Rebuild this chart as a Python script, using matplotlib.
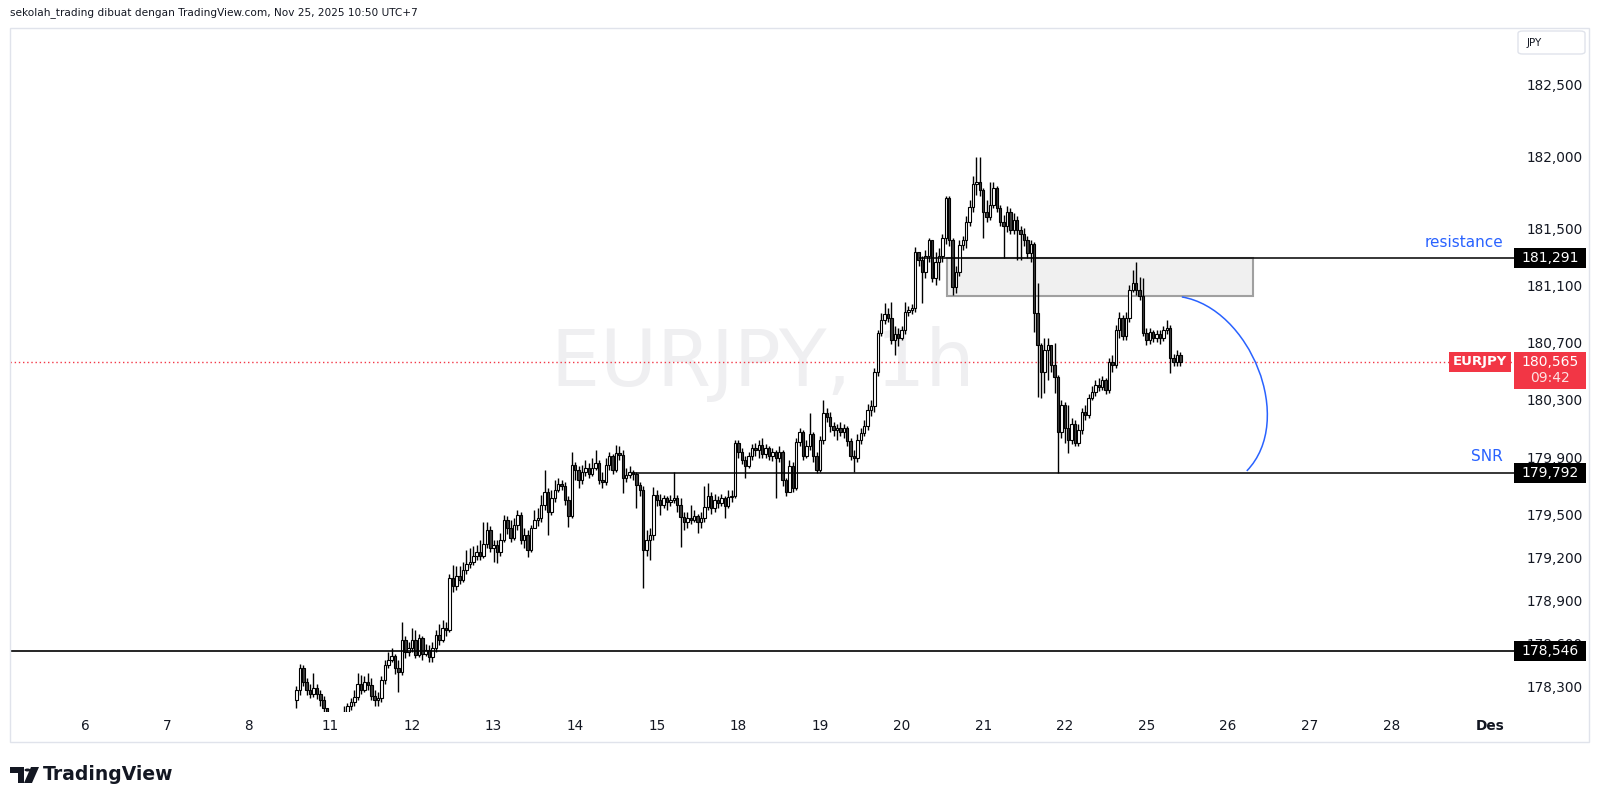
import matplotlib
matplotlib.use("Agg")
import matplotlib.pyplot as plt
import matplotlib.transforms as mtransforms
from matplotlib.patches import Rectangle, FancyBboxPatch, PathPatch, Polygon, Circle
from matplotlib.path import Path
import numpy as np

# EURJPY 1h candles, bar index counted from Nov 6 00:00 (UTC+7)
first_bar = 62
first_open = 178.205
close = [
    178.275, 178.428, 178.330, 178.275, 178.247, 178.289, 178.247, 178.205, 178.149, 178.079,
    178.030, 178.051, 178.065, 178.093, 178.121, 178.163, 178.191, 178.226, 178.316, 178.275,
    178.330, 178.309, 178.233, 178.205, 178.219, 178.344, 178.449, 178.484, 178.512, 178.428,
    178.400, 178.624, 178.540, 178.568, 178.624, 178.519, 178.638, 178.526, 178.554, 178.505,
    178.568, 178.659, 178.624, 178.708, 178.694, 179.057, 179.001, 179.071, 179.043, 179.113,
    179.155, 179.169, 179.210, 179.238, 179.210, 179.294, 179.392, 179.266, 179.287, 179.238,
    179.322, 179.462, 179.406, 179.336, 179.427, 179.497, 179.322, 179.357, 179.252, 179.406,
    179.462, 179.476, 179.567, 179.657, 179.518, 179.615, 179.671, 179.713, 179.699, 179.601,
    179.490, 179.846, 179.811, 179.741, 179.797, 179.825, 179.783, 179.825, 179.860, 179.741,
    179.727, 179.846, 179.909, 179.811, 179.930, 179.916, 179.755, 179.776, 179.797, 179.783,
    179.706, 179.671, 179.252, 179.322, 179.357, 179.636, 179.601, 179.567, 179.615, 179.587,
    179.601, 179.615, 179.567, 179.483, 179.448, 179.476, 179.462, 179.490, 179.448, 179.476,
    179.553, 179.629, 179.546, 179.601, 179.580, 179.615, 179.560, 179.622, 179.629, 180.000,
    179.937, 179.881, 179.839, 179.909, 179.965, 179.951, 179.986, 179.923, 179.965, 179.909,
    179.937, 179.895, 179.937, 179.741, 179.657, 179.839, 179.685, 180.006, 180.076, 179.909,
    179.979, 180.062, 179.909, 179.811, 180.020, 180.209, 180.181, 180.118, 180.090, 180.104,
    180.076, 180.104, 180.013, 179.909, 179.895, 180.020, 180.069, 180.118, 180.230, 180.258,
    180.495, 180.768, 180.858, 180.900, 180.872, 180.719, 180.761, 180.733, 180.789, 180.914,
    180.928, 180.942, 181.333, 181.277, 181.194, 181.305, 181.417, 181.152, 181.263, 181.305,
    181.431, 181.710, 181.417, 181.089, 181.194, 181.382, 181.417, 181.543, 181.647, 181.808,
    181.822, 181.766, 181.612, 181.578, 181.661, 181.780, 181.640, 181.543, 181.515, 181.612,
    181.487, 181.557, 181.487, 181.459, 181.417, 181.326, 181.389, 180.907, 180.684, 180.495,
    180.649, 180.684, 180.544, 180.460, 180.076, 180.265, 180.104, 180.020, 180.132, 179.999,
    180.090, 180.216, 180.195, 180.314, 180.356, 180.405, 180.391, 180.439, 180.370, 180.565,
    180.544, 180.789, 180.872, 180.747, 180.872, 181.068, 181.117, 181.068, 181.026, 180.768,
    180.719, 180.775, 180.733, 180.761, 180.733, 180.789, 180.803, 180.593, 180.565, 180.614,
    180.565,
]
high = [
    178.303, 178.456, 178.449, 178.358, 178.316, 178.393, 178.316, 178.275, 178.233, 178.135,
    178.114, 178.093, 178.107, 178.114, 178.163, 178.184, 178.219, 178.275, 178.393, 178.379,
    178.372, 178.393, 178.358, 178.275, 178.261, 178.372, 178.484, 178.540, 178.568, 178.526,
    178.484, 178.749, 178.652, 178.610, 178.708, 178.694, 178.666, 178.652, 178.596, 178.589,
    178.610, 178.694, 178.736, 178.763, 178.749, 179.085, 179.148, 179.141, 179.141, 179.169,
    179.252, 179.266, 179.280, 179.287, 179.322, 179.448, 179.448, 179.420, 179.322, 179.322,
    179.371, 179.497, 179.490, 179.462, 179.476, 179.532, 179.518, 179.406, 179.392, 179.427,
    179.532, 179.546, 179.636, 179.811, 179.685, 179.671, 179.741, 179.755, 179.741, 179.727,
    179.629, 179.937, 179.867, 179.839, 179.846, 179.881, 179.860, 179.895, 179.951, 179.881,
    179.797, 179.895, 179.937, 179.923, 179.986, 179.979, 179.951, 179.825, 179.839, 179.811,
    179.797, 179.727, 179.699, 179.392, 179.406, 179.692, 179.671, 179.643, 179.636, 179.629,
    179.636, 179.797, 179.636, 179.615, 179.518, 179.518, 179.567, 179.532, 179.504, 179.518,
    179.699, 179.720, 179.657, 179.643, 179.629, 179.643, 179.629, 179.671, 179.671, 180.020,
    180.020, 179.965, 179.909, 179.937, 179.993, 180.000, 180.020, 180.034, 179.993, 179.979,
    179.965, 179.951, 179.979, 179.951, 179.755, 179.881, 179.867, 180.034, 180.104, 180.090,
    180.020, 180.209, 180.076, 179.937, 180.048, 180.300, 180.244, 180.216, 180.146, 180.132,
    180.146, 180.132, 180.118, 180.034, 179.951, 180.062, 180.104, 180.160, 180.272, 180.300,
    180.523, 180.789, 180.907, 180.977, 180.942, 180.984, 180.817, 180.803, 180.817, 180.984,
    180.956, 180.970, 181.368, 181.333, 181.305, 181.347, 181.431, 181.417, 181.333, 181.361,
    181.459, 181.724, 181.724, 181.431, 181.236, 181.417, 181.445, 181.585, 181.696, 181.864,
    181.996, 181.996, 181.780, 181.696, 181.822, 181.822, 181.794, 181.661, 181.592, 181.654,
    181.640, 181.605, 181.585, 181.515, 181.501, 181.445, 181.417, 181.403, 181.117, 180.698,
    180.733, 180.733, 180.684, 180.698, 180.474, 180.300, 180.286, 180.265, 180.174, 180.160,
    180.132, 180.244, 180.265, 180.342, 180.398, 180.439, 180.453, 180.467, 180.453, 180.593,
    180.614, 180.823, 180.914, 180.893, 180.914, 181.103, 181.208, 181.263, 181.159, 181.152,
    180.803, 180.803, 180.789, 180.789, 180.789, 180.817, 180.858, 180.823, 180.621, 180.649,
    180.635,
]
low = [
    178.149, 178.240, 178.303, 178.240, 178.219, 178.226, 178.212, 178.163, 178.107, 178.051,
    177.995, 177.995, 178.023, 178.051, 178.065, 178.107, 178.135, 178.163, 178.205, 178.247,
    178.261, 178.275, 178.205, 178.163, 178.163, 178.191, 178.316, 178.428, 178.470, 178.386,
    178.261, 178.379, 178.498, 178.512, 178.540, 178.498, 178.505, 178.484, 178.512, 178.470,
    178.470, 178.540, 178.589, 178.610, 178.652, 178.680, 178.959, 178.973, 179.015, 179.029,
    179.085, 179.127, 179.148, 179.182, 179.182, 179.196, 179.266, 179.238, 179.169, 179.162,
    179.210, 179.308, 179.364, 179.308, 179.322, 179.392, 179.294, 179.266, 179.203, 179.238,
    179.420, 179.420, 179.448, 179.532, 179.357, 179.497, 179.587, 179.657, 179.671, 179.567,
    179.413, 179.476, 179.741, 179.685, 179.713, 179.769, 179.755, 179.769, 179.811, 179.713,
    179.685, 179.706, 179.811, 179.783, 179.797, 179.881, 179.650, 179.727, 179.755, 179.741,
    179.546, 179.629, 178.987, 179.210, 179.182, 179.322, 179.560, 179.497, 179.546, 179.532,
    179.560, 179.580, 179.518, 179.273, 179.392, 179.406, 179.434, 179.448, 179.371, 179.406,
    179.448, 179.532, 179.504, 179.518, 179.546, 179.560, 179.476, 179.546, 179.587, 179.615,
    179.895, 179.853, 179.755, 179.825, 179.881, 179.909, 179.895, 179.895, 179.895, 179.881,
    179.874, 179.615, 179.867, 179.699, 179.629, 179.657, 179.657, 179.671, 179.979, 179.881,
    179.895, 179.951, 179.867, 179.790, 179.797, 179.993, 180.146, 180.076, 180.048, 180.020,
    180.048, 180.034, 179.979, 179.881, 179.797, 179.867, 179.993, 180.048, 180.090, 180.188,
    180.216, 180.467, 180.747, 180.830, 180.844, 180.691, 180.614, 180.677, 180.719, 180.761,
    180.886, 180.900, 180.914, 181.236, 180.977, 181.152, 181.263, 181.124, 181.103, 181.138,
    181.263, 181.389, 181.375, 181.033, 181.047, 181.166, 181.347, 181.361, 181.515, 181.612,
    181.731, 181.724, 181.431, 181.543, 181.557, 181.640, 181.612, 181.515, 181.291, 181.473,
    181.459, 181.459, 181.277, 181.277, 181.375, 181.291, 181.263, 180.775, 180.321, 180.314,
    180.349, 180.439, 180.495, 180.349, 179.790, 180.034, 179.999, 179.930, 179.993, 179.979,
    179.979, 180.062, 180.160, 180.174, 180.300, 180.328, 180.363, 180.370, 180.342, 180.349,
    180.495, 180.523, 180.733, 180.719, 180.719, 180.844, 181.054, 181.033, 180.998, 180.747,
    180.684, 180.691, 180.705, 180.705, 180.691, 180.712, 180.761, 180.488, 180.537, 180.537,
    180.537,
]

price_ticks = [182.5, 182.0, 181.5, 181.1, 180.7, 180.3, 179.9, 179.5, 179.2, 178.9, 178.6, 178.3]
day_pos = [0, 24, 48, 72, 96, 120, 144, 168, 192, 216, 240, 264, 288, 312, 336, 360, 384, 413]
day_labels = ['6', '7', '8', '11', '12', '13', '14', '15', '18', '19', '20', '21', '22',
              '25', '26', '27', '28', 'Des']

# drawings
support_low = 178.546
snr = 179.792
snr_start = 161
resistance = 181.291
res_start = 245
zone = [253.3, 343.3, 181.026, 181.291]  # bar from, bar to, price bottom, price top
last_price = 180.565
arc_pts = [(322.4, 181.019), (342.4, 180.940), (356.0, 180.160), (341.5, 179.804)]

W, H = 1600, 801
TXT = '#131722'
BLUE = '#2962ff'
RED = '#f23645'

plt.rcParams['font.family'] = ['DejaVu Sans']
fig = plt.figure(figsize=(16, 8.01), dpi=100)
fig.patch.set_facecolor('white')


def fx(x):
    return x / W


def fy(y):
    return 1 - y / H


ax = fig.add_axes([fx(10), fy(712), 1504 / W, 684 / H])
ax.set_xlim(-22.26, 420.1)
ax.set_ylim(178.1206, 182.897)
for s in ax.spines.values():
    s.set_visible(False)

close = np.array(close)
high = np.array(high)
low = np.array(low)
# hourly forex bars open where the previous one closed
opn = np.concatenate([[first_open], close[:-1]])
xs = np.arange(first_bar, first_bar + len(close))
up = close >= opn

ax.vlines(xs, np.minimum(low, np.minimum(opn, close)), np.maximum(high, np.maximum(opn, close)),
          color='black', lw=1.0, zorder=3)
ax.bar(xs, close - opn, bottom=opn, width=0.72,
       color=np.where(up, 'white', '#3c3c3c'), edgecolor='black', linewidth=0.8, zorder=4)

# watermark
ax.text(0.5007, 0.509, 'EURJPY, 1h', transform=ax.transAxes, ha='center', va='center',
        fontsize=56, color='#efeff1', zorder=0)

# horizontal levels and zone
ax.axhline(support_low, color='black', lw=1.2, zorder=5)
ax.hlines(snr, snr_start, 420.1, color='black', lw=1.1, zorder=5)
ax.hlines(resistance, res_start, 420.1, color='black', lw=1.1, zorder=5)
ax.add_patch(Rectangle((zone[0], zone[2]), zone[1] - zone[0], zone[3] - zone[2],
                       facecolor='#f0f0f0', edgecolor='#a0a0a0', lw=1.5, zorder=1))
ax.axhline(last_price, color=RED, lw=1, linestyle=(0, (1, 2)), zorder=2)

arc = Path(arc_pts, [Path.MOVETO, Path.CURVE4, Path.CURVE4, Path.CURVE4])
ax.add_patch(PathPatch(arc, facecolor='none', edgecolor=BLUE, lw=1.1, zorder=5))

bt = mtransforms.blended_transform_factory(ax.transAxes, ax.transData)
ax.text(0.9927, 181.396, 'resistance', transform=bt, ha='right', va='center',
        color=BLUE, fontsize=11)
ax.text(0.9927, 179.905, 'SNR', transform=bt, ha='right', va='center',
        color=BLUE, fontsize=11)

# price axis
ax.yaxis.tick_right()
ax.set_yticks(price_ticks)
ax.set_yticklabels([f'{v:.3f}'.replace('.', ',') for v in price_ticks])
ax.tick_params(axis='y', length=0, pad=9, labelsize=9.8, labelcolor=TXT)
ax.set_xticks(day_pos)
ax.set_xticklabels(day_labels)
ax.tick_params(axis='x', length=0, pad=5, labelsize=9.8, labelcolor=TXT)
ax.get_xticklabels()[-1].set_fontweight('bold')

ppx = 143.2  # pixels per 1 JPY on the price scale
tag_w = 72 / 1504


def tag(price, text, color, h=20, dy=0.0):
    ax.add_patch(Rectangle((1.0, price - h / 2 / ppx + dy), tag_w, h / ppx, transform=bt,
                           facecolor=color, edgecolor='none', clip_on=False, zorder=8))
    ax.text(1.0 + tag_w / 2, price, text, transform=bt, ha='center', va='center',
            color='white', fontsize=10, clip_on=False, zorder=9)


tag(resistance, f'{resistance:.3f}'.replace('.', ','), 'black')
tag(snr, f'{snr:.3f}'.replace('.', ','), 'black')
tag(support_low, f'{support_low:.3f}'.replace('.', ','), 'black')

# last price tag with countdown
ax.add_patch(Rectangle((1.0, last_price - 37 / ppx + 10 / ppx), tag_w, 37 / ppx, transform=bt,
                       facecolor=RED, edgecolor='none', clip_on=False, zorder=8))
ax.text(1.0 + tag_w / 2, last_price, f'{last_price:.3f}'.replace('.', ','), transform=bt,
        ha='center', va='center', color='white', fontsize=10, clip_on=False, zorder=9)
ax.text(1.0 + tag_w / 2, last_price - 16 / ppx, '09:42', transform=bt,
        ha='center', va='center', color='#fde0e2', fontsize=10, clip_on=False, zorder=9)
ax.add_patch(Rectangle((1439 / 1504, last_price - 10 / ppx), 62 / 1504, 20 / ppx, transform=bt,
                       facecolor=RED, edgecolor='none', clip_on=False, zorder=8))
ax.text(1470 / 1504, last_price, 'EURJPY', transform=bt, ha='center', va='center',
        color='white', fontsize=9.5, fontweight='bold', zorder=9)

# frame, header, currency button, logo
fig.add_artist(Rectangle((fx(10), fy(742)), 1579 / W, 714 / H, transform=fig.transFigure,
                         fill=False, edgecolor='#e0e3eb', lw=1))
fig.text(fx(10), fy(13), 'sekolah_trading dibuat dengan TradingView.com, Nov 25, 2025 10:50 UTC+7',
         ha='left', va='center', fontsize=7.55, color=TXT)
fig.add_artist(FancyBboxPatch((fx(1518), fy(54)), 67 / W, 23 / H, transform=fig.transFigure,
                              boxstyle='round,pad=0,rounding_size=0.003',
                              facecolor='white', edgecolor='#e0e3eb', lw=1))
fig.text(fx(1527), fy(43), 'JPY', ha='left', va='center', fontsize=7.5, color=TXT)

fig.add_artist(Polygon([(fx(10), fy(767)), (fx(24), fy(767)), (fx(24), fy(783)), (fx(18), fy(783)),
                        (fx(18), fy(773)), (fx(10), fy(773))], closed=True,
                       transform=fig.transFigure, facecolor=TXT, edgecolor='none'))
fig.add_artist(Circle((fx(27.5), fy(770)), 3 / W, transform=fig.transFigure,
                      facecolor=TXT, edgecolor='none'))
fig.add_artist(Polygon([(fx(31), fy(767)), (fx(39), fy(767)), (fx(32), fy(783)), (fx(24), fy(783))],
                       closed=True, transform=fig.transFigure, facecolor=TXT, edgecolor='none'))
fig.text(fx(43), fy(775), 'TradingView', ha='left', va='center', fontsize=13.5,
         fontweight='bold', color=TXT)

fig.savefig('out.png', dpi=100, facecolor='white')
